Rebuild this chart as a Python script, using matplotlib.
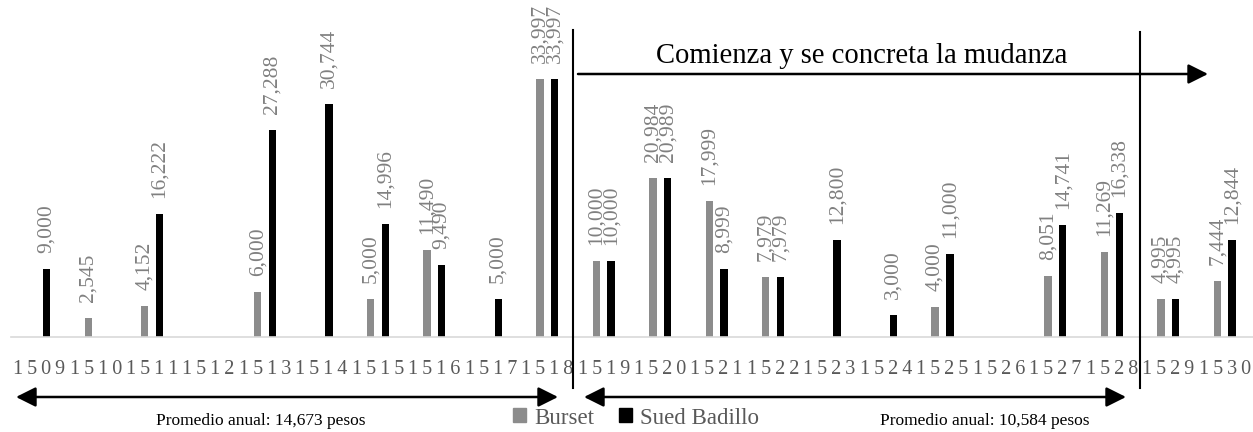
import matplotlib
matplotlib.use("Agg")
import matplotlib.pyplot as plt
from matplotlib.patches import FancyArrowPatch, Rectangle
from matplotlib.lines import Line2D
import numpy as np

years = [str(y) for y in range(1509, 1531)]
burset = [None, 2545, 4152, None, 6000, None, 5000, 11490, None, 33997,
          10000, 20984, 17999, 7979, None, None, 4000, None, 8051, 11269, 4995, 7444]
sued = [9000, None, 16222, None, 27288, 30744, 14996, 9490, 5000, 33997,
        10000, 20989, 8999, 7979, 12800, 3000, 11000, None, 14741, 16338, 4995, 12844]

W, H = 1253, 432
fig = plt.figure(figsize=(W / 100, H / 100), dpi=100)
SERIF = ["Liberation Serif", "DejaVu Serif"]

def fx(x):
    return x / W

def fy(y):
    return 1 - y / H

ax = fig.add_axes([fx(11), fy(337.3), 1 - fx(11), 1 - fy(337.3)])
n = len(years)
x = np.arange(n)
bw = 0.13
off = 0.13
GRAY = "#8c8c8c"
LBL = "#808080"

for i in range(n):
    if burset[i] is not None:
        ax.bar(x[i] - off, burset[i], width=bw, color=GRAY)
        ax.annotate(f"{burset[i]:,}", (x[i] - off, burset[i]), xytext=(0, 11.5),
                    textcoords="offset points", rotation=90, ha="center", va="bottom",
                    color=LBL, fontsize=15.5, family=SERIF)
    if sued[i] is not None:
        ax.bar(x[i] + off, sued[i], width=bw, color="black")
        ax.annotate(f"{sued[i]:,}", (x[i] + off, sued[i]), xytext=(0, 11.5),
                    textcoords="offset points", rotation=90, ha="center", va="bottom",
                    color=LBL, fontsize=15.5, family=SERIF)

ax.set_xlim(-0.5, n - 0.5)
ax.set_ylim(0, 44450)
for s in ["top", "right", "left"]:
    ax.spines[s].set_visible(False)
ax.spines["bottom"].set_color("#d9d9d9")
ax.spines["bottom"].set_linewidth(1.2)
ax.set_yticks([])
ax.set_xticks(x)
ax.set_xticklabels(["\u2009".join(y) for y in years], family="Liberation Serif",
                   fontsize=14.5, color="#595959")
ax.tick_params(axis="x", length=0, pad=16)

# vertical separators
fig.add_artist(Line2D([fx(572.5), fx(572.5)], [fy(30), fy(388)], color="black", lw=1.5))
fig.add_artist(Line2D([fx(1139.5), fx(1139.5)], [fy(32), fy(388)], color="black", lw=1.5))

# top arrow
fig.add_artist(FancyArrowPatch((fx(578), fy(74)), (fx(1208), fy(74)),
                               transform=fig.transFigure, arrowstyle="-|>,head_length=12,head_width=6",
                               color="black", lw=1.8, mutation_scale=1, shrinkA=0, shrinkB=0))
fig.text(fx(862), fy(63), "Comienza y se concreta la mudanza", ha="center", va="baseline",
         fontsize=20.6, family=SERIF, color="black")

# bottom arrows
for a, b in [(16, 558), (584, 1126)]:
    fig.add_artist(FancyArrowPatch((fx(a), fy(397)), (fx(b), fy(397)),
                                   transform=fig.transFigure,
                                   arrowstyle="<|-|>,head_length=12,head_width=6",
                                   color="black", lw=1.8, mutation_scale=1, shrinkA=0, shrinkB=0))

fig.text(fx(261), fy(421), "Promedio anual: 14,673 pesos", ha="center", va="center",
         fontsize=12.5, family=SERIF, color="black")
fig.text(fx(985), fy(421), "Promedio anual: 10,584 pesos", ha="center", va="center",
         fontsize=12.5, family=SERIF, color="black")

handles = [Rectangle((0, 0), 1, 1, color=GRAY), Rectangle((0, 0), 1, 1, color="black")]
leg = fig.legend(handles, ["Burset", "Sued Badillo"], loc="center", bbox_to_anchor=(fx(636), fy(418)),
                 ncol=2, frameon=False, prop={"family": SERIF, "size": 16.5},
                 handlelength=0.55, handleheight=0.55, handletextpad=0.35, columnspacing=1.1)
for t in leg.get_texts():
    t.set_color("#595959")

fig.savefig("out.png", dpi=100)
